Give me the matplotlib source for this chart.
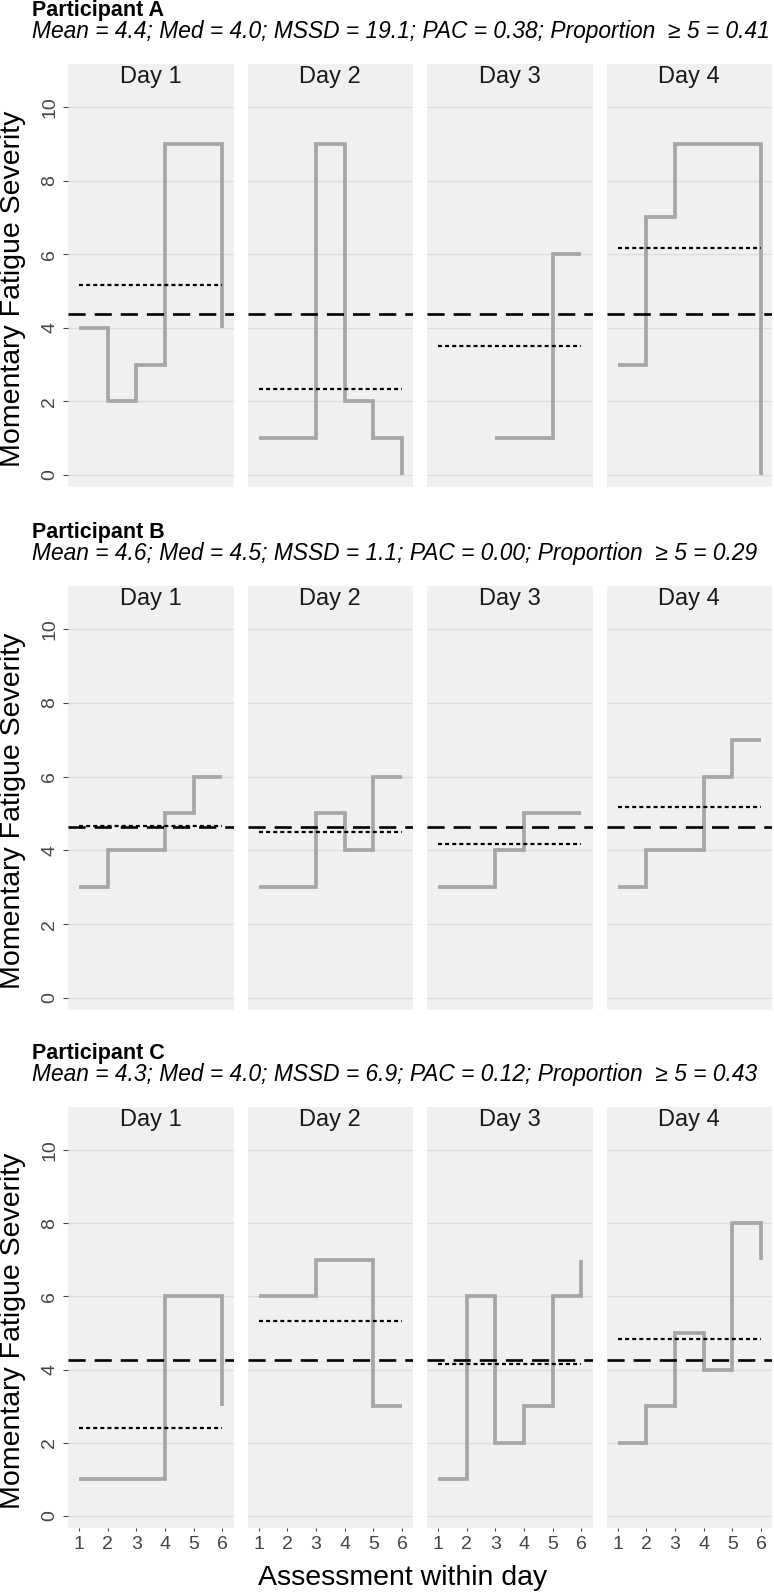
import numpy as np
import matplotlib
matplotlib.use("Agg")
import matplotlib.pyplot as plt

plt.rcParams['font.family'] = ['Liberation Sans', 'DejaVu Sans']

# ---------------- data ----------------
assessments = [1, 2, 3, 4, 5, 6]
day_labels = ["Day 1", "Day 2", "Day 3", "Day 4"]
participants = ["Participant A", "Participant B", "Participant C"]
stats_text = [
    "Mean = 4.4; Med = 4.0; MSSD = 19.1; PAC = 0.38; Proportion  \u2265 5 = 0.41",
    "Mean = 4.6; Med = 4.5; MSSD = 1.1; PAC = 0.00; Proportion  \u2265 5 = 0.29",
    "Mean = 4.3; Med = 4.0; MSSD = 6.9; PAC = 0.12; Proportion  \u2265 5 = 0.43",
]
nan = np.nan
A_day1 = [4, 2, 3, 9, 9, 4]
A_day2 = [1, 1, 9, 2, 1, 0]
A_day3 = [nan, nan, 1, 1, 6, 6]
A_day4 = [3, 7, 9, 9, 9, 0]
B_day1 = [3, 4, 4, 5, 6, 6]
B_day2 = [3, 3, 5, 4, 6, 6]
B_day3 = [3, 3, 4, 5, 5, 5]
B_day4 = [3, 4, 4, 6, 7, 7]
C_day1 = [1, 1, 1, 6, nan, 3]
C_day2 = [6, 6, 7, 7, 3, 3]
C_day3 = [1, 6, 2, 3, 6, 7]
C_day4 = [2, 3, 5, 4, 8, 7]
series = [
    [A_day1, A_day2, A_day3, A_day4],
    [B_day1, B_day2, B_day3, B_day4],
    [C_day1, C_day2, C_day3, C_day4],
]
y_ticks = [0, 2, 4, 6, 8, 10]

# ---------------- layout ----------------
W, H = 774, 1593
fig = plt.figure(figsize=(W / 100, H / 100), dpi=100)
fig.patch.set_facecolor("white")

def rect(l, t, r, b):
    return [l / W, 1 - b / H, (r - l) / W, (b - t) / H]

row_tops = [64, 586, 1107]
row_bottoms = [487, 1010, 1528]
panel_left, panel_right, gap = 68, 772, 14
pw = (panel_right - panel_left - 3 * gap) / 4
strip_h = 26

panel_bg = "#F0F0F0"
grid_col = "#DCDCDC"
step_col = "#A6A6A6"
text_col = "#1A1A1A"
tick_col = "#444444"

for r in range(3):
    top, bot = row_tops[r], row_bottoms[r]
    h = bot - top
    u = (h - 55) / 10.0
    ylo, yhi = -12 / u, 10 + 43 / u
    vals_all = np.concatenate([np.array(s, float) for s in series[r]])
    grand_mean = np.nanmean(vals_all)

    fig.text(32 / W, 1 - (top - 48) / H, participants[r], fontsize=15.5,
             fontweight="bold", color="black", ha="left", va="baseline")
    fig.text(32 / W, 1 - (top - 26) / H, stats_text[r], fontsize=16.4,
             style="italic", color="black", ha="left", va="baseline")
    fig.text(13 / W, 1 - ((top + strip_h + bot) / 2) / H,
             "Momentary Fatigue Severity", fontsize=20.5, rotation=90,
             ha="center", va="center", color="black")

    for d in range(4):
        l = panel_left + d * (pw + gap)
        ax = fig.add_axes(rect(l, top, l + pw, bot))
        ax.set_facecolor(panel_bg)
        for sp in ax.spines.values():
            sp.set_visible(False)
        ax.set_xlim(0.615, 6.385)
        ax.set_ylim(ylo, yhi)
        ax.set_yticks(y_ticks)
        ax.set_xticks(assessments)
        for yv in y_ticks:
            ax.axhline(yv, color=grid_col, lw=0.9, zorder=0)

        y = np.array(series[r][d], float)
        x = np.array(assessments, float)
        m = ~np.isnan(y)
        ax.plot(x[m], y[m], drawstyle="steps-post", color=step_col, lw=2.7,
                solid_joinstyle="miter", solid_capstyle="butt", zorder=2)
        ax.axhline(grand_mean, color="black", lw=1.9,
                   linestyle=(0, (6.5, 3.4)), zorder=3)
        ax.plot([assessments[0], assessments[-1]], [np.nanmean(y)] * 2,
                color="black", lw=1.6, linestyle=(0, (1.8, 1.4)), zorder=4)

        ax.text(0.5, yhi - 13 / u, day_labels[d], transform=ax.get_yaxis_transform(),
                ha="center", va="center", fontsize=17, color=text_col)

        if d == 0:
            ax.tick_params(axis="y", length=3.6, width=0.8, color=tick_col,
                           labelsize=14, labelcolor=tick_col, pad=3.5)
            for lab in ax.get_yticklabels():
                lab.set_rotation(90)
                lab.set_va("center")
        else:
            ax.tick_params(axis="y", length=0, labelleft=False)
        if r == 2:
            ax.tick_params(axis="x", length=2.5, width=0.8, color=tick_col,
                           labelsize=14, labelcolor=tick_col, pad=3)
        else:
            ax.tick_params(axis="x", length=0, labelbottom=False)

fig.text(403 / W, 1 - 1585 / H, "Assessment within day", fontsize=20.5,
         ha="center", va="baseline", color="black")

fig.savefig("out.png", dpi=100, facecolor="white")
